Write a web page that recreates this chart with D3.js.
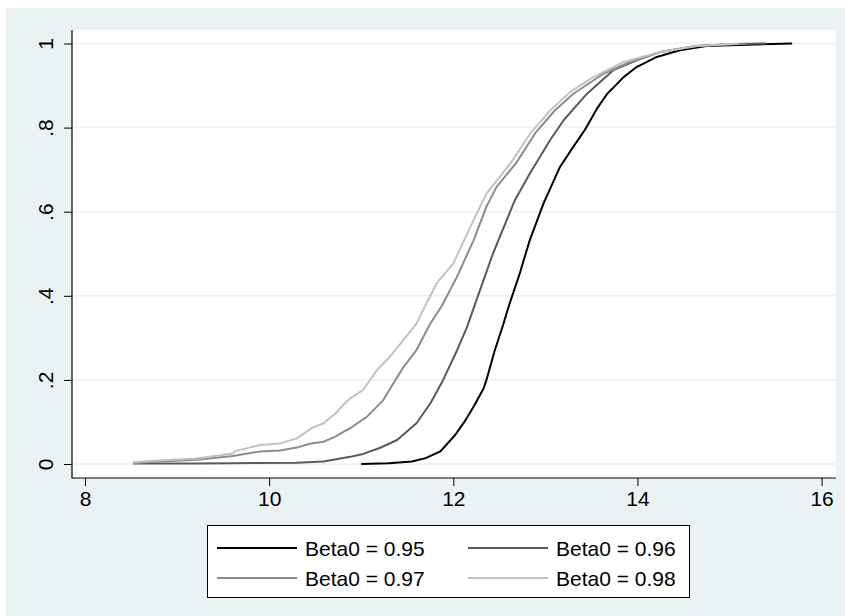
<!DOCTYPE html>
<html>
<head>
<meta charset="utf-8">
<script src="https://cdn.jsdelivr.net/npm/d3@7"></script>
<style>
  html, body { margin: 0; padding: 0; background: #ffffff; }
  svg { display: block; }
  text { font-family: "Liberation Sans", Arial, Helvetica, sans-serif; }
</style>
</head>
<body>
<svg id="chart" width="845" height="616"></svg>
<script>
// ---- Data ----
const xTicks = [8, 10, 12, 14, 16];
const yTicks = [0, 0.2, 0.4, 0.6, 0.8, 1];
const yTickLabels = ["0", ".2", ".4", ".6", ".8", "1"];

const seriesNames = ["Beta0 = 0.95", "Beta0 = 0.96", "Beta0 = 0.97", "Beta0 = 0.98"];

const b95_x = [11.0, 11.3, 11.55, 11.7, 11.86, 12.02, 12.12, 12.22, 12.33, 12.36, 12.45, 12.54, 12.6, 12.72, 12.83, 12.98, 13.16, 13.29, 13.43, 13.56, 13.67, 13.85, 13.99, 14.21, 14.46, 14.75, 15.19, 15.68];
const b95_p = [0, 0.002, 0.006, 0.014, 0.03, 0.069, 0.1, 0.136, 0.18, 0.2, 0.27, 0.33, 0.374, 0.452, 0.532, 0.62, 0.707, 0.75, 0.795, 0.845, 0.88, 0.92, 0.944, 0.968, 0.984, 0.994, 0.997, 1.0];

const b96_x = [8.52, 9.2, 9.6, 10.3, 10.59, 10.88, 11.02, 11.2, 11.39, 11.6, 11.75, 11.89, 12.04, 12.15, 12.22, 12.43, 12.67, 12.83, 13.05, 13.2, 13.45, 13.74, 13.99, 14.25, 14.64, 15.0, 15.4];
const b96_p = [0.001, 0.001, 0.002, 0.003, 0.006, 0.017, 0.024, 0.038, 0.057, 0.097, 0.144, 0.2, 0.27, 0.326, 0.37, 0.5, 0.628, 0.69, 0.77, 0.818, 0.88, 0.937, 0.96, 0.98, 0.994, 0.998, 1.0];

const b97_x = [8.52, 8.71, 9.21, 9.61, 9.9, 10.12, 10.3, 10.44, 10.59, 10.72, 10.81, 10.88, 11.06, 11.24, 11.35, 11.46, 11.6, 11.75, 11.87, 12.04, 12.22, 12.36, 12.47, 12.69, 12.9, 13.1, 13.3, 13.63, 13.92, 14.25, 14.64, 15.19];
const b97_p = [0.002, 0.005, 0.01, 0.019, 0.03, 0.032, 0.039, 0.048, 0.053, 0.065, 0.077, 0.085, 0.112, 0.152, 0.192, 0.231, 0.271, 0.334, 0.374, 0.445, 0.532, 0.612, 0.659, 0.718, 0.79, 0.84, 0.88, 0.928, 0.956, 0.98, 0.994, 1.0];

const b98_x = [8.52, 8.71, 9.21, 9.61, 9.62, 9.9, 10.12, 10.3, 10.46, 10.59, 10.72, 10.82, 10.88, 11.02, 11.17, 11.31, 11.46, 11.6, 11.69, 11.82, 12.0, 12.22, 12.36, 12.62, 12.85, 13.05, 13.27, 13.52, 13.85, 14.25, 14.64, 15.1];
const b98_p = [0.004, 0.007, 0.013, 0.025, 0.03, 0.045, 0.049, 0.061, 0.085, 0.097, 0.12, 0.144, 0.156, 0.176, 0.223, 0.255, 0.295, 0.334, 0.374, 0.43, 0.477, 0.58, 0.643, 0.715, 0.79, 0.84, 0.885, 0.92, 0.956, 0.98, 0.994, 1.0];

const seriesColors = ["#000000", "#5a5a5a", "#8c8c8c", "#c2c2c2"];

const series = [
  { name: seriesNames[0], xs: b95_x, ps: b95_p, color: seriesColors[0] },
  { name: seriesNames[1], xs: b96_x, ps: b96_p, color: seriesColors[1] },
  { name: seriesNames[2], xs: b97_x, ps: b97_p, color: seriesColors[2] },
  { name: seriesNames[3], xs: b98_x, ps: b98_p, color: seriesColors[3] }
];

// ---- Layout ----
const svg = d3.select("#chart");
const W = 845, H = 616;
const plot = { left: 72, right: 836, top: 30, bottom: 478 };

// outer background
svg.append("rect").attr("x", 6).attr("y", 8).attr("width", W - 6).attr("height", H - 8)
  .attr("fill", "#eaf2f3");
// plot region
svg.append("rect").attr("x", plot.left).attr("y", plot.top)
  .attr("width", plot.right - plot.left).attr("height", plot.bottom - plot.top)
  .attr("fill", "#ffffff");

const x = d3.scaleLinear().domain([8, 16]).range([85, 821.6]);
const y = d3.scaleLinear().domain([0, 1]).range([464, 43.5]);

// grid lines
svg.append("g").selectAll("line").data(yTicks).join("line")
  .attr("x1", plot.left + 1).attr("x2", plot.right)
  .attr("y1", d => y(d)).attr("y2", d => y(d))
  .attr("stroke", "#eaf2f3").attr("stroke-width", 1.5);

// x axis
const xAxis = d3.axisBottom(x).tickValues(xTicks).tickSize(8).tickPadding(5)
  .tickFormat(d3.format("d"));
const gx = svg.append("g").attr("transform", `translate(0,${plot.bottom})`).call(xAxis);
gx.select(".domain").remove();
gx.selectAll(".tick line").attr("stroke", "#000").attr("stroke-width", 1);
gx.selectAll(".tick text").attr("font-size", 21).attr("fill", "#000")
  .attr("font-family", "Liberation Sans, Arial, sans-serif");

// y axis
const yAxis = d3.axisLeft(y).tickValues(yTicks).tickSize(8)
  .tickFormat((d, i) => yTickLabels[i]);
const gy = svg.append("g").attr("transform", `translate(${plot.left},0)`).call(yAxis);
gy.select(".domain").remove();
gy.selectAll(".tick line").attr("stroke", "#000").attr("stroke-width", 1);
gy.selectAll(".tick text")
  .attr("font-size", 21).attr("fill", "#000")
  .attr("font-family", "Liberation Sans, Arial, sans-serif")
  .attr("x", null).attr("dy", null)
  .attr("text-anchor", "middle")
  .attr("transform", "translate(-19,0) rotate(-90)");

// axis lines
svg.append("line").attr("x1", plot.left).attr("x2", plot.left)
  .attr("y1", plot.top).attr("y2", plot.bottom + 0.5)
  .attr("stroke", "#000").attr("stroke-width", 1.2);
svg.append("line").attr("x1", plot.left).attr("x2", plot.right)
  .attr("y1", plot.bottom).attr("y2", plot.bottom)
  .attr("stroke", "#000").attr("stroke-width", 1.2);

// curves
const line = d3.line().x(d => x(d[0])).y(d => y(d[1])).curve(d3.curveLinear);
series.forEach(s => {
  const pts = s.xs.map((v, i) => [v, s.ps[i]]);
  svg.append("path").datum(pts)
    .attr("d", line)
    .attr("fill", "none")
    .attr("stroke", s.color)
    .attr("stroke-width", 2)
    .attr("stroke-linejoin", "round");
});

// legend
const leg = { x: 207, y: 525, w: 482, h: 72 };
svg.append("rect").attr("x", leg.x + 0.5).attr("y", leg.y + 0.5)
  .attr("width", leg.w).attr("height", leg.h)
  .attr("fill", "#ffffff").attr("stroke", "#000").attr("stroke-width", 1);
const legPos = [
  { lx: 217, ty: 548 }, { lx: 468, ty: 548 },
  { lx: 217, ty: 578 }, { lx: 468, ty: 578 }
];
series.forEach((s, i) => {
  const p = legPos[i];
  svg.append("line").attr("x1", p.lx).attr("x2", p.lx + 80)
    .attr("y1", p.ty).attr("y2", p.ty)
    .attr("stroke", s.color).attr("stroke-width", 2);
  svg.append("text").attr("x", p.lx + 88).attr("y", p.ty)
    .attr("dy", "0.36em").attr("font-size", 21).attr("fill", "#000")
    .text(s.name);
});
</script>
</body>
</html>
